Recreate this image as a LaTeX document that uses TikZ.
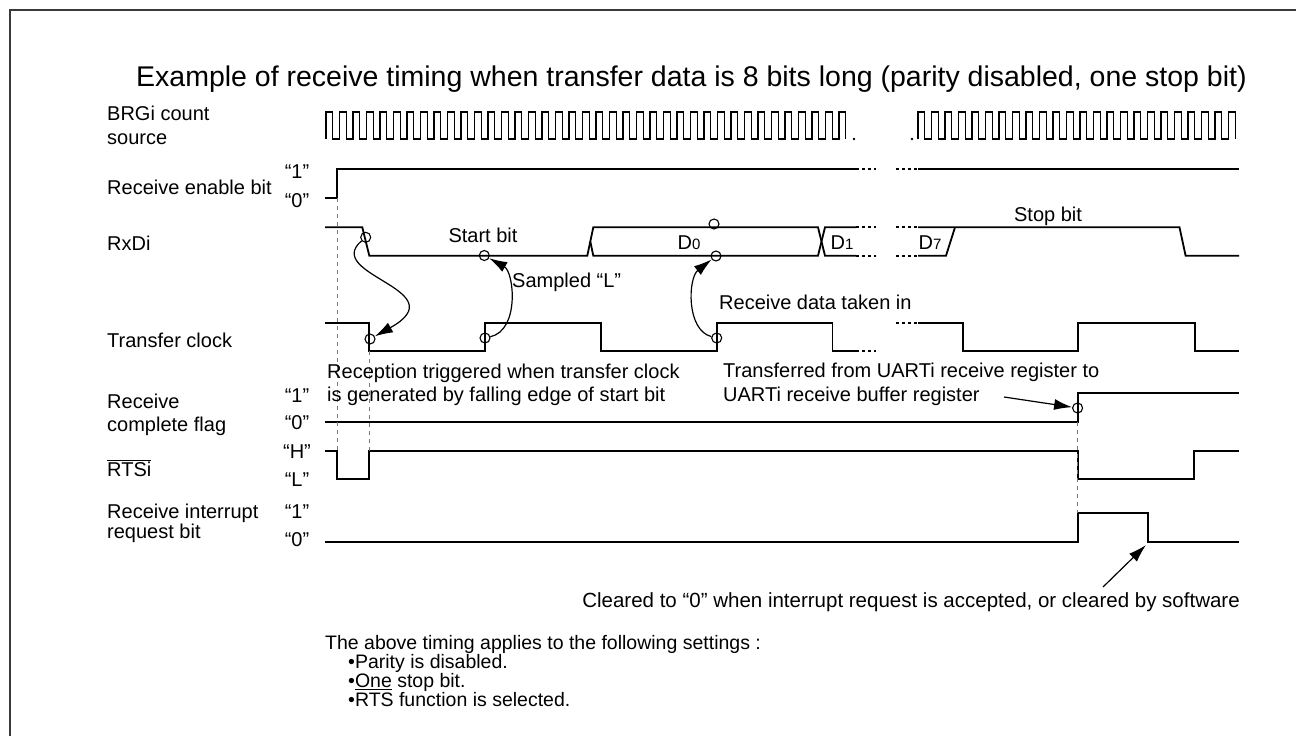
\documentclass[tikz,border=0pt]{standalone}
\usepackage{fontspec}
\setmainfont{Liberation Sans}
\usetikzlibrary{arrows.meta}
\definecolor{framegray}{HTML}{3A3A3A}
\definecolor{guidegray}{HTML}{7A7A7A}
\tikzset{
  sig/.style={line width=1.8pt, line join=miter},
  dots/.style={line width=1.8pt, dash pattern=on 2.5pt off 3.5pt},
  guide/.style={guidegray, line width=0.8pt, dash pattern=on 4pt off 4pt},
  probe/.style={circle, draw, line width=1.1pt, minimum size=10pt, inner sep=0pt},
  cause/.style={line width=1.2pt, -{Latex[length=18pt,width=11pt]}},
  lbl/.style={font=\fontsize{20}{23.4}\selectfont, inner sep=0pt},
  lvl/.style={font=\fontsize{20}{20}\selectfont, inner sep=0pt},
}

\begin{document}
\begin{tikzpicture}[x=1pt, y=-1pt]
\useasboundingbox (0,0) rectangle (1296,736);
\draw[framegray, line width=1.5pt] (10,740) -- (10,10) -- (1300,10);
\node[lbl, font=\fontsize{28.5}{30}\selectfont, anchor=west] (title) at (136,79)
  {Example of receive timing when transfer data is 8 bits long (parity disabled, one stop bit)};

\node[lbl, anchor=west, align=left, font=\fontsize{20}{24}\selectfont] (brglbl) at (107,125) {BRGi count\\source};
\node[lbl, anchor=west] (renlbl) at (107,187) {Receive enable bit};
\node[lbl, anchor=west] (rxdlbl) at (107,243) {RxDi};
\node[lbl, anchor=west] (tcklbl) at (107,340) {Transfer clock};
\node[lbl, anchor=west, align=left] (rcflbl) at (107,415) {Receive\\complete flag};
\node[lbl, anchor=west] (rtslbl) at (107,468) {$\overline{\hbox{RTSi}}$};
\node[lbl, anchor=west, align=left, font=\fontsize{20}{20}\selectfont] (irqlbl) at (107,523) {Receive interrupt\\request bit};

\node[lvl] (ren1) at (297,172) {“1”};
\node[lvl] (ren0) at (297,201) {“0”};
\node[lvl] (rcf1) at (297,396) {“1”};
\node[lvl] (rcf0) at (297,423) {“0”};
\node[lvl] (rtsh) at (297,452) {“H”};
\node[lvl] (rtsl) at (297,480) {“L”};
\node[lvl] (irq1) at (297,512) {“1”};
\node[lvl] (irq0) at (297,540) {“0”};

\draw[sig, line width=1.4pt] (326,139) \foreach \i in {1,...,38}{-- ++(0,-27) -- ++(6.75,0) -- ++(0,27) -- ++(6.75,0)}
  -- ++(0,-27) -- ++(6.75,0) -- ++(0,27);
\fill (854,139) circle (1.3pt);
\fill (912,139) circle (1.3pt);
\draw[sig, line width=1.4pt] (918,139) \foreach \i in {1,...,23}{-- ++(0,-27) -- ++(6.75,0) -- ++(0,27) -- ++(6.75,0)}
  -- ++(0,-27) -- ++(6.75,0) -- ++(0,27);

\draw[sig] (325,197.7) -- (337.3,197.7) -- (337.3,169) -- (856,169);
\draw[dots] (856,169) -- (876,169) (896,169) -- (918,169);
\draw[sig] (918,169) -- (1239,169);

\draw[sig] (325,227.3) -- (362.3,227.3) -- (369.3,255.7) -- (587.3,255.7) -- (593.3,227.3) -- (818,227.3) -- (825,255.7) -- (856,255.7);
\draw[sig] (590.3,241.5) -- (593.3,255.7) -- (818,255.7) -- (825,227.3) -- (856,227.3);
\draw[dots] (856,227.3) -- (876,227.3) (856,255.7) -- (876,255.7) (896,227.3) -- (918,227.3) (896,255.7) -- (918,255.7);
\draw[sig] (918,255.7) -- (946,255.7) -- (955,227.3);
\draw[sig] (918,227.3) -- (1179.5,227.3) -- (1185.6,255.7) -- (1239,255.7);

\draw[sig] (325,322.7) -- (369.3,322.7) -- (369.3,351) -- (485,351) -- (485,322.7) -- (600.7,322.7) -- (600.7,351)
  -- (716.7,351) -- (716.7,322.7) -- (832.5,322.7) -- (832.5,351) -- (856,351);
\draw[dots] (856,351) -- (876,351) (896,322.7) -- (918,322.7);
\draw[sig] (918,322.7) -- (963,322.7) -- (963,351) -- (1077.6,351) -- (1077.6,322.7) -- (1194.7,322.7) -- (1194.7,351) -- (1239,351);

\draw[sig] (325,421.7) -- (1077.6,421.7) -- (1077.6,392.7) -- (1239,392.7);
\draw[sig] (325,450.7) -- (337.3,450.7) -- (337.3,479) -- (369.3,479) -- (369.3,450.7) -- (1077.6,450.7) -- (1077.6,479)
  -- (1194,479) -- (1194,450.7) -- (1239,450.7);
\draw[sig] (325,541.7) -- (1077.6,541.7) -- (1077.6,513.3) -- (1148,513.3) -- (1148,541.7) -- (1239,541.7);

\draw[guide] (337.3,197.7) -- (337.3,450.7);
\draw[guide] (369.3,351) -- (369.3,450.7);
\draw[guide] (1077.6,421.7) -- (1077.6,513.3);

\node[probe] (rxfall) at (365.7,237.3) {};
\node[probe] (sbit) at (484.3,255.5) {};
\node[probe] (d0hi) at (714,224) {};
\node[probe] (d0lo) at (716,256) {};
\node[probe] (ck1) at (370,339) {};
\node[probe] (ck2) at (485,338) {};
\node[probe] (ck3) at (716.7,338) {};
\node[probe] (rcflag) at (1077.6,408) {};

\draw[cause] (rxfall) .. controls (322,275) and (458,290) .. (ck1);
\draw[cause] (ck2) .. controls (520,330) and (514,272) .. (sbit);
\draw[cause] (ck3) .. controls (686,330) and (688,278) .. (d0lo);
\coordinate (xfrtail) at (1004,397);
\draw[cause] (xfrtail) -- (rcflag);
\coordinate (clrtail) at (1103,587);
\coordinate (irqfall) at (1146,545);
\draw[cause] (clrtail) -- (irqfall);

\node[lbl] (startlbl) at (483,235) {Start bit};
\node[lbl, anchor=west] (samplbl) at (512,282) {Sampled “L”};
\node[lbl] (d0lbl) at (689,243) {D{\fontsize{15}{15}\selectfont 0}};
\node[lbl] (d1lbl) at (842,243) {D{\fontsize{15}{15}\selectfont 1}};
\node[lbl] (d7lbl) at (930,243) {D{\fontsize{15}{15}\selectfont 7}};
\node[lbl] (stoplbl) at (1048,216) {Stop bit};
\node[lbl, anchor=west] (takenlbl) at (719,302) {Receive data taken in};
\node[lbl, anchor=west, align=left] (triglbl) at (327,385)
  {Reception triggered when transfer clock\\is generated by falling edge of start bit};
\node[lbl, anchor=west, align=left] (xfrlbl) at (723,384.5)
  {Transferred from UARTi receive register to\\UARTi receive buffer register};
\node[lbl, anchor=east, font=\fontsize{20.5}{23}\selectfont] (clrlbl) at (1240,602)
  {Cleared to “0” when interrupt request is accepted, or cleared by software};
\node[lbl, anchor=west, align=left, font=\fontsize{19.5}{16.5}\selectfont] (notes) at (325,671)
  {The above timing applies to the following settings :\\
   \hspace{23pt}•Parity is disabled.\\
   \hspace{23pt}•\underline{One} stop bit.\\
   \hspace{23pt}•RTS function is selected.};
\end{tikzpicture}
\end{document}
